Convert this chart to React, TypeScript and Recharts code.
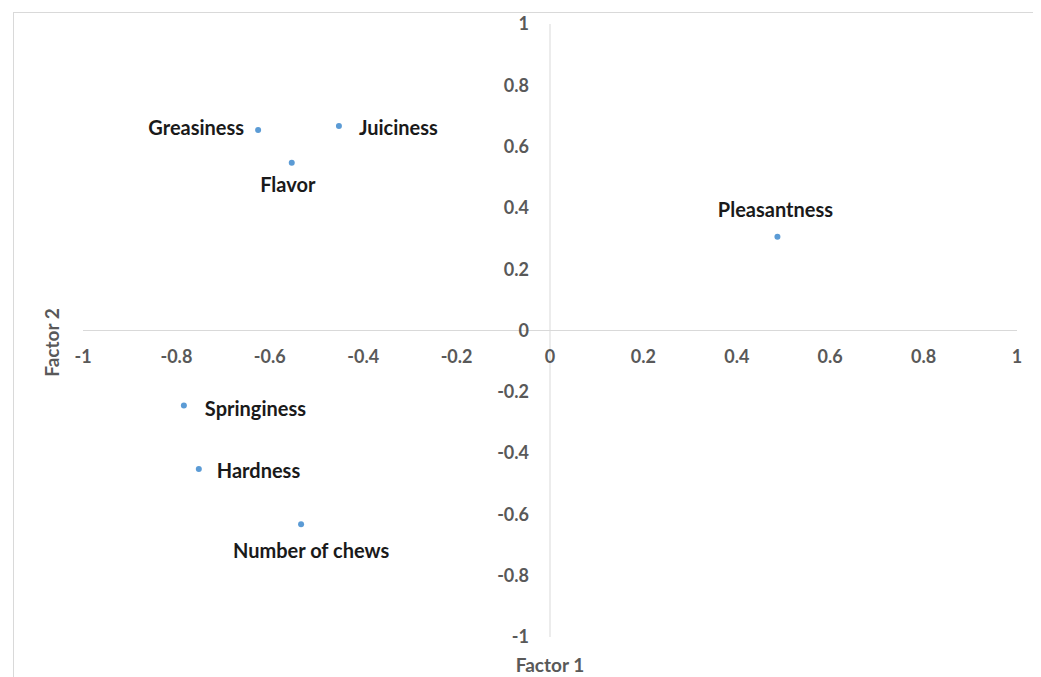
import { ScatterChart, Scatter, XAxis, YAxis, ReferenceLine, ReferenceDot } from 'recharts'

const attributes = ['Greasiness', 'Juiciness', 'Flavor', 'Pleasantness', 'Springiness', 'Hardness', 'Number of chews']
const factor1 = [-0.625, -0.452, -0.553, 0.487, -0.784, -0.752, -0.533]
const factor2 = [0.654, 0.667, 0.547, 0.306, -0.245, -0.452, -0.632]

const xTicks = [-1, -0.8, -0.6, -0.4, -0.2, 0, 0.2, 0.4, 0.6, 0.8, 1]
const yTicks = [-1, -0.8, -0.6, -0.4, -0.2, 0, 0.2, 0.4, 0.6, 0.8, 1]

const points = attributes.map((name, i) => ({ name, x: factor1[i], y: factor2[i] }))

// where each point's label sits relative to its dot
const labelPlace: Record<string, { dx: number; dy: number; anchor: 'start' | 'middle' | 'end' }> = {
  Greasiness: { dx: -14, dy: -3, anchor: 'end' },
  Juiciness: { dx: 20, dy: 1, anchor: 'start' },
  Flavor: { dx: -4, dy: 21, anchor: 'middle' },
  Pleasantness: { dx: -2, dy: -28, anchor: 'middle' },
  Springiness: { dx: 21, dy: 2, anchor: 'start' },
  Hardness: { dx: 18, dy: 1, anchor: 'start' },
  'Number of chews': { dx: 10, dy: 26, anchor: 'middle' },
}

const FONT = 'Lato, "Open Sans", sans-serif'
const GRAY = '#595959'

const PointShape = (props: any) => {
  const { cx, cy, payload } = props
  const p = labelPlace[payload.name]
  return (
    <g>
      <circle cx={cx} cy={cy} r={3} fill="#5b9bd5" />
      <text
        x={cx + p.dx}
        y={cy + p.dy}
        textAnchor={p.anchor}
        dominantBaseline="central"
        fontFamily={FONT}
        fontWeight={700}
        fontSize={20}
        fill="#1a1a1a"
      >
        {payload.name}
      </text>
    </g>
  )
}

const tickLabel = (t: number) => ({
  value: String(t),
  fill: GRAY,
  fontSize: 18,
  fontWeight: 700,
  fontFamily: FONT,
})

export default function App() {
  return (
    <div
      style={{
        position: 'relative',
        marginTop: 4,
        marginLeft: 5,
        width: 1022,
        height: 670,
        border: '1px solid #d9d9d9',
        background: '#fff',
        fontFamily: FONT,
      }}
    >
      <ScatterChart width={1022} height={660} margin={{ top: 11, right: 19, bottom: 36, left: 69 }}>
        <XAxis type="number" dataKey="x" domain={[-1, 1]} hide />
        <YAxis type="number" dataKey="y" domain={[-1, 1]} hide />
        <ReferenceLine y={0} stroke="#d9d9d9" strokeWidth={1} />
        <ReferenceLine x={0} stroke="#d9d9d9" strokeWidth={1} />
        {xTicks.map((t) => (
          <ReferenceDot
            key={`x${t}`}
            x={t}
            y={0}
            r={0}
            ifOverflow="visible"
            stroke="none"
            label={{ ...tickLabel(t), position: 'bottom', offset: 20 }}
          />
        ))}
        {yTicks.map((t) => (
          <ReferenceDot
            key={`y${t}`}
            x={0}
            y={t}
            r={0}
            ifOverflow="visible"
            stroke="none"
            label={{ ...tickLabel(t), position: 'left', offset: 21 }}
          />
        ))}
        <Scatter data={points} shape={PointShape} isAnimationActive={false} />
      </ScatterChart>
      <div
        style={{
          position: 'absolute',
          left: 496,
          top: 640,
          width: 80,
          textAlign: 'center',
          color: GRAY,
          fontWeight: 700,
          fontSize: 19,
        }}
      >
        Factor 1
      </div>
      <div
        style={{
          position: 'absolute',
          left: -3,
          top: 318,
          width: 80,
          textAlign: 'center',
          color: GRAY,
          fontWeight: 700,
          fontSize: 19,
          transform: 'rotate(-90deg)',
        }}
      >
        Factor 2
      </div>
    </div>
  )
}
